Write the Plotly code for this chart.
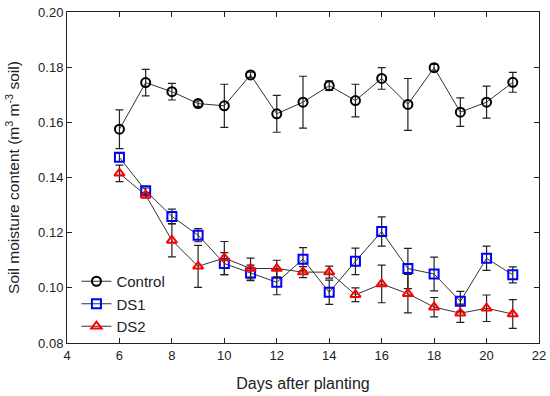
import plotly.graph_objects as go

days = [6, 7, 8, 9, 10, 11, 12, 13, 14, 15, 16, 17, 18, 19, 20, 21]

control = [0.1575, 0.1744, 0.1711, 0.1668, 0.1660, 0.1772, 0.1631, 0.1673,
           0.1733, 0.1679, 0.1759, 0.1665, 0.1798, 0.1637, 0.1673, 0.1745]
control_err = [0.0070, 0.0048, 0.0030, 0.0010, 0.0078, 0.0010, 0.0067, 0.0094,
               0.0017, 0.0059, 0.0039, 0.0094, 0.0012, 0.0052, 0.0058, 0.0036]

ds1 = [0.1473, 0.1352, 0.1259, 0.1191, 0.1088, 0.1054, 0.1020, 0.1104,
       0.0984, 0.1096, 0.1204, 0.1070, 0.1050, 0.0951, 0.1107, 0.1047]
ds1_err = [0.0015, 0.0010, 0.0026, 0.0024, 0.0040, 0.0028, 0.0045, 0.0042,
           0.0044, 0.0048, 0.0053, 0.0073, 0.0061, 0.0036, 0.0044, 0.0029]

ds2 = [0.1415, 0.1336, 0.1172, 0.1078, 0.1108, 0.1070, 0.1070, 0.1057,
       0.1057, 0.0975, 0.1014, 0.0979, 0.0930, 0.0908, 0.0926, 0.0905]
ds2_err = [0.0030, 0.0010, 0.0060, 0.0076, 0.0060, 0.0038, 0.0030, 0.0020,
           0.0022, 0.0025, 0.0068, 0.0070, 0.0035, 0.0033, 0.0048, 0.0052]

series = [
    ("Control", control, control_err, "circle-open", "black"),
    ("DS1", ds1, ds1_err, "square-open", "#0000ff"),
    ("DS2", ds2, ds2_err, "triangle-up-open", "#ff0000"),
]

fig = go.Figure()
for name, vals, errs, sym, col in series:
    fig.add_trace(go.Scatter(
        x=days, y=vals, name=name, mode="lines+markers",
        line=dict(color="#333333", width=1),
        marker=dict(symbol=sym, size=9, color=col, line=dict(color=col, width=2)),
        error_y=dict(type="data", array=errs, visible=True, color="#222222",
                     thickness=1.2, width=4),
    ))

axis_common = dict(
    showline=True, linecolor="#222222", linewidth=1, mirror="ticks",
    ticks="inside", ticklen=5, tickcolor="#222222", showgrid=False,
    zeroline=False, automargin=False,
    tickfont=dict(family="Liberation Sans, Arial", size=13, color="#222222"),
)

fig.update_layout(
    width=550, height=396,
    margin=dict(l=67, r=11, t=12, b=53),
    plot_bgcolor="white", paper_bgcolor="white",
    font=dict(family="Liberation Sans, Arial", color="#222222"),
    xaxis=dict(range=[4, 22], dtick=2, tick0=4,
               title=dict(text="Days after planting", font=dict(size=16), standoff=16),
               **axis_common),
    yaxis=dict(range=[0.08, 0.20], dtick=0.02, tick0=0.08, tickformat=".2f",
               title=dict(text="Soil moisture content (m<sup>3</sup> m<sup>-3</sup> soil)",
                          font=dict(size=15.5), standoff=14),
               **axis_common),
    legend=dict(x=0.02, y=0.0, xanchor="left", yanchor="bottom",
                bgcolor="rgba(0,0,0,0)", font=dict(size=15), tracegroupgap=0,
                itemwidth=30),
    showlegend=True,
)

# remove the default page margin so the figure sits at the window's top-left corner
fig.write_html("out.html", config={"displayModeBar": False},
               post_script="document.body.style.margin='0';")
